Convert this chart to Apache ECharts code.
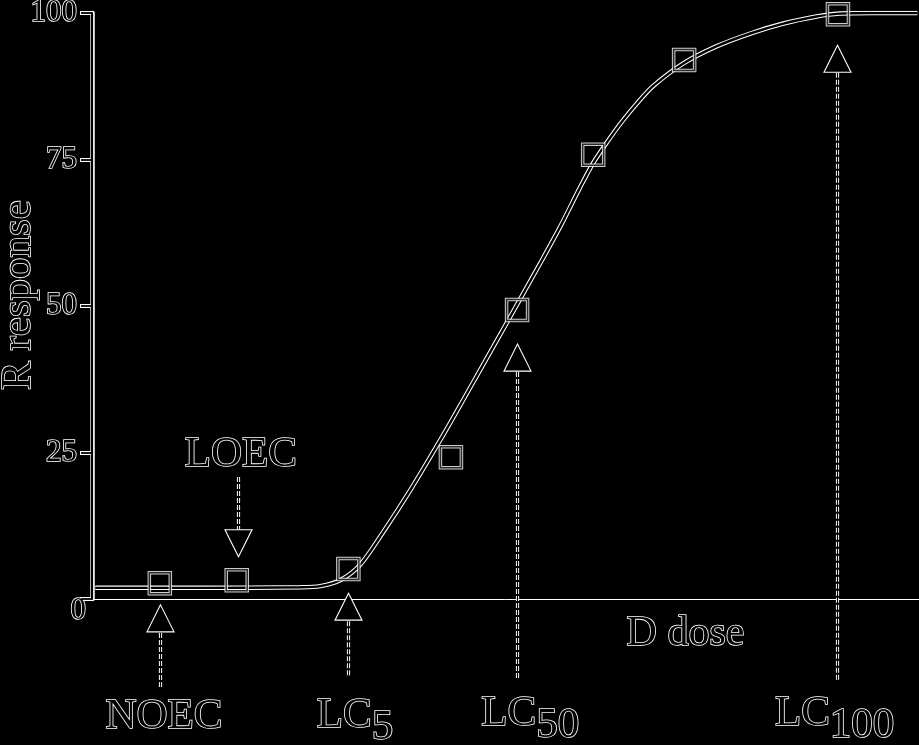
<!DOCTYPE html>
<html>
<head>
<meta charset="utf-8">
<script src="https://cdn.jsdelivr.net/npm/echarts@6/dist/echarts.min.js"></script>
<style>
  html, body { margin: 0; padding: 0; background: #000; }
  #chart { width: 919px; height: 745px; }
</style>
</head>
<body>
<div id="chart"></div>
<script>
// ---- data ----
const yTicks = [0, 25, 50, 75, 100];

// fitted response curve (dose, response)
const curveDose = [0.4, 13.1, 25.2, 27.6, 30.0, 32.4, 35.2, 38.5, 42.1, 44.9, 50.1, 54.2, 56.6, 59.0, 60.6, 62.2, 64.1, 66.1, 67.9, 71.5, 75.5, 79.6, 83.6, 87.6, 90.4, 94.4, 99.8];
const curveResp = [1.9, 1.9, 2.0, 2.2, 3.2, 5.8, 11.4, 18.6, 27.1, 34.0, 47.0, 57.3, 63.5, 70.2, 74.4, 77.8, 81.5, 84.9, 87.6, 91.4, 94.3, 96.5, 98.2, 99.4, 99.9, 100, 100];

// observed points
const pointDose = [8.2, 17.5, 31.0, 43.4, 51.4, 60.6, 71.6, 90.2];
const pointResp = [2.7, 3.2, 5.1, 24.2, 49.3, 75.8, 92.0, 99.8];

// annotation arrows: name, subscript, dose, tail response, tip response, label anchor
const annNames = ['NOEC', 'LOEC', 'LC', 'LC', 'LC'];
const annSubs = ['', '', '5', '50', '100'];
const annDose = [8.2, 17.7, 31.0, 51.4, 90.1];
const annTail = [-15.0, 20.8, -13.0, -13.5, -13.8];
const annTip = [-1.0, 7.2, 1.0, 43.5, 94.5];
const annLabelDose = [8.7, 18.0, 31.8, 53.0, 89.8];
const annLabelResp = [-20.1, 24.6, -20.0, -19.6, -19.6];

const xName = 'D dose';
const yName = 'R response';

// ---- chart ----
const FF = '"Liberation Serif", "Times New Roman", serif';
const outline = { color: '#000', textBorderColor: '#fff', textBorderWidth: 1.6, fontFamily: FF };

const curveData = curveDose.map((d, i) => [d, curveResp[i]]);
const pointData = pointDose.map((d, i) => [d, pointResp[i]]);
const annData = annDose.map((d, i) => [d, annTail[i], annTip[i], annLabelDose[i], annLabelResp[i]]);

const chart = echarts.init(document.getElementById('chart'), null, { renderer: 'canvas' });

const annFont = '43px ' + FF;

chart.setOption({
  backgroundColor: '#000',
  animation: false,
  grid: { left: 92, right: 0, top: 13, bottom: 146, containLabel: false, outerBoundsMode: 'none' },
  xAxis: {
    type: 'value', min: 0, max: 100,
    axisLine: { show: true, onZero: false, lineStyle: { color: '#fff', width: 1 } },
    axisTick: { show: false },
    axisLabel: { show: false },
    splitLine: { show: false },
    name: xName, nameLocation: 'middle', nameGap: 14, nameMoveOverlap: false,
    nameTextStyle: Object.assign({}, outline, { fontSize: 42, padding: [0, 0, 0, 360] })
  },
  yAxis: [
    {
      type: 'value', min: yTicks[0], max: yTicks[yTicks.length - 1], interval: 25,
      position: 'left',
      axisLine: { show: true, onZero: false, lineStyle: { color: '#fff', width: 4.5 } },
      axisTick: { show: true, length: 12, lineStyle: { color: '#fff', width: 4 } },
      axisLabel: {
        show: true, margin: 6,
        formatter: v => (v === 0 ? '{z|0}' : '{n|' + v + '}'),
        rich: {
          n: Object.assign({}, outline, { fontSize: 31, padding: [0, 9, 0, 0] }),
          z: Object.assign({}, outline, { fontSize: 31, padding: [24, 0, 0, 0] })
        }
      },
      splitLine: { show: false },
      name: yName, nameLocation: 'middle', nameRotate: 90, nameGap: 52, nameMoveOverlap: false,
      nameTextStyle: Object.assign({}, outline, { fontSize: 43, padding: [0, 0, 0, 22] })
    },
    {
      type: 'value', min: yTicks[0], max: yTicks[yTicks.length - 1], interval: 25,
      position: 'left', offset: 0, z: 5,
      axisLine: { show: true, onZero: false, lineStyle: { color: '#000', width: 2.2 } },
      axisTick: { show: true, length: 11, lineStyle: { color: '#000', width: 1.8 } },
      axisLabel: { show: false },
      splitLine: { show: false }
    }
  ],
  series: [
    {
      type: 'line', data: curveData, symbol: 'none', smooth: 0.3, z: 2,
      lineStyle: { color: '#fff', width: 4.5 }
    },
    {
      type: 'line', data: curveData, symbol: 'none', smooth: 0.3, z: 2,
      lineStyle: { color: '#000', width: 2.4 }
    },
    {
      type: 'scatter', data: pointData, symbol: 'rect', symbolSize: 21, z: 3,
      itemStyle: { color: 'rgba(0,0,0,0)', borderColor: '#fff', borderWidth: 3.5 }
    },
    {
      type: 'scatter', data: pointData, symbol: 'rect', symbolSize: 21, z: 3,
      itemStyle: { color: 'rgba(0,0,0,0)', borderColor: '#000', borderWidth: 1.5 }
    },
    {
      type: 'custom', data: annData, clip: false, z: 4,
      encode: { x: 0, y: 1 },
      renderItem: function (params, api) {
        const i = params.dataIndex;
        const pT = api.coord([api.value(0), api.value(1)]);
        const pP = api.coord([api.value(0), api.value(2)]);
        const pL = api.coord([api.value(3), api.value(4)]);
        const dir = pP[1] < pT[1] ? -1 : 1;
        const H = 27, W = 13.5;
        const baseY = pP[1] - dir * H;
        const x = Math.round(pP[0]) + 0.5;
        const sub = annSubs[i];
        const text = sub ? '{m|' + annNames[i] + '}{s|' + sub + '}' : '{m|' + annNames[i] + '}';
        return {
          type: 'group',
          children: [
            { type: 'line', shape: { x1: x, y1: pT[1], x2: x, y2: baseY },
              style: { stroke: '#fff', lineWidth: 3.2, lineDash: [5, 2] } },
            { type: 'line', shape: { x1: x, y1: pT[1], x2: x, y2: baseY },
              style: { stroke: '#000', lineWidth: 1.2 } },
            { type: 'polygon', shape: { points: [[x, pP[1]], [x - W, baseY], [x + W, baseY]] },
              style: { fill: '#000', stroke: '#fff', lineWidth: 1.1 } },
            { type: 'text', x: pL[0], y: pL[1],
              style: {
                text: text, font: annFont, align: 'center', verticalAlign: 'middle',
                fill: '#000', stroke: '#fff', lineWidth: 1.6,
                rich: {
                  m: { font: annFont, fill: '#000', stroke: '#fff', lineWidth: 1.6 },
                  s: { font: annFont, fill: '#000', stroke: '#fff', lineWidth: 1.6, padding: [24, 0, 0, 0] }
                }
              } }
          ]
        };
      }
    }
  ]
});
</script>
</body>
</html>
